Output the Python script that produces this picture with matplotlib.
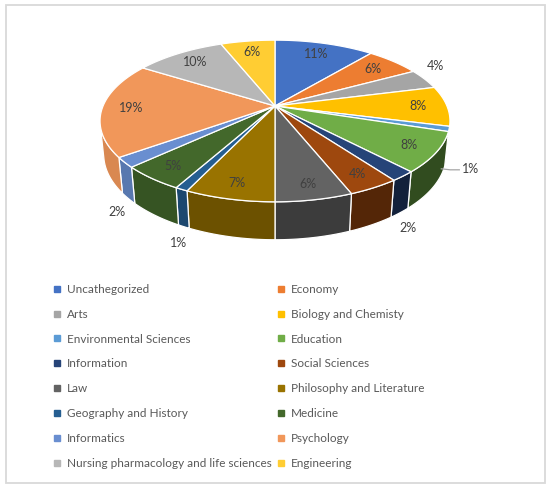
import numpy as np
import matplotlib
matplotlib.use("Agg")
import matplotlib.pyplot as plt
from matplotlib.lines import Line2D
from matplotlib.patches import Polygon, Rectangle
from matplotlib.colors import to_rgb

plt.rcParams['font.family'] = ['Lato', 'DejaVu Sans']

categories = ["Uncathegorized", "Economy", "Arts", "Biology and Chemisty",
              "Environmental Sciences", "Education", "Information", "Social Sciences",
              "Law", "Philosophy and Literature", "Geography and History", "Medicine",
              "Informatics", "Psychology", "Nursing pharmacology and life sciences",
              "Engineering"]
values = [11, 6, 4, 8, 1, 8, 2, 4, 6, 7, 1, 5, 2, 19, 10, 6]
colors = ["#4472C4", "#ED7D31", "#A5A5A5", "#FFC000", "#5B9BD5", "#70AD47",
          "#264478", "#9E480E", "#636363", "#997300", "#255E91", "#43682B",
          "#698ED0", "#F1975A", "#B7B7B7", "#FFCD33"]
outside_labels = ["Arts", "Environmental Sciences", "Information",
                  "Geography and History", "Informatics"]
leader_labels = ["Environmental Sciences"]

W, H = 550, 487
fig = plt.figure(figsize=(W / 100, H / 100), dpi=100)
ax = fig.add_axes([0, 0, 1, 1])
ax.set_xlim(0, W)
ax.set_ylim(H, 0)
ax.axis('off')

# perspective projection of a tilted disk
CX, CY = 275, 106
TH = np.radians(27)
S, C = np.sin(TH), np.cos(TH)
DIST, FOC, HGT = 4.81, 827.0, 0.22


def proj(phi, r, y):
    X = r * np.sin(phi)
    Z = -r * np.cos(phi)
    v = y * C - Z * S
    w = DIST - (y * S + Z * C)
    return CX + X * FOC / w, CY - v * FOC / w


vals = np.array(values, dtype=float)
frac = vals / vals.sum()
edges = np.concatenate([[0], np.cumsum(frac)]) * 2 * np.pi
lim = np.arccos(-1.0 / (DIST * C))          # silhouette angles
vis_lo, vis_hi = lim, 2 * np.pi - lim


def darken(c, k):
    r, g, b = to_rgb(c)
    return (r * k, g * k, b * k)


# side walls
for i, col in enumerate(colors):
    a, b = edges[i], edges[i + 1]
    lo, hi = max(a, vis_lo), min(b, vis_hi)
    if hi <= lo:
        continue
    phi = np.linspace(lo, hi, 60)
    tx, ty = proj(phi, 1.0, 0.0)
    bx, by = proj(phi, 1.0, -HGT)
    xs = np.concatenate([tx, bx[::-1]])
    ys = np.concatenate([ty, by[::-1]])
    mid = 0.5 * (a + b)
    k = np.clip(0.65 - 0.25 * np.sin(mid), 0.35, 0.95)
    ax.add_patch(Polygon(np.column_stack([xs, ys]), closed=True,
                         facecolor=darken(col, k), edgecolor='white',
                         linewidth=0.9, joinstyle='round'))

# top faces
for i, col in enumerate(colors):
    a, b = edges[i], edges[i + 1]
    phi = np.linspace(a, b, max(int((b - a) / 0.01), 4))
    tx, ty = proj(phi, 1.0, 0.0)
    xs = np.concatenate([[CX], tx])
    ys = np.concatenate([[CY], ty])
    ax.add_patch(Polygon(np.column_stack([xs, ys]), closed=True,
                         facecolor=col, edgecolor='white',
                         linewidth=0.9, joinstyle='round'))


def outward(phi, y):
    px, py = proj(phi, 1.0, y)
    qx, qy = proj(phi + 1e-3, 1.0, y)
    tx, ty = qx - px, qy - py
    nx, ny = ty, -tx
    n = np.hypot(nx, ny)
    nx, ny = nx / n, ny / n
    if nx * (px - CX) + ny * (py - CY) < 0:
        nx, ny = -nx, -ny
    return px, py, nx, ny


# data labels
for i, cat in enumerate(categories):
    mid = 0.5 * (edges[i] + edges[i + 1])
    txt = f"{values[i]}%"
    if cat in outside_labels:
        y = 0.0 if np.cos(mid) > 0 else -HGT
        px, py, nx, ny = outward(mid, y)
        if cat in leader_labels:
            sx, sy = proj(mid, 1.0, -0.75 * HGT)
            lx, ly = sx + 24, sy + 14
            ax.plot([sx - 5, sx + 4, lx - 11], [sy + 14, sy + 15, ly + 1],
                    color='#A6A6A6', linewidth=0.9)
        else:
            lx, ly = px + 17 * nx, py + 17 * ny
        ax.text(lx, ly, txt, ha='center', va='center', fontsize=9,
                color='#404040')
    else:
        ex, ey = proj(mid, 1.0, 0.0)
        lx, ly = CX + 0.83 * (ex - CX), CY + 0.83 * (ey - CY)
        ax.text(lx, ly, txt, ha='center', va='center', fontsize=9,
                color='#404040')

# chart border
ax.add_patch(Rectangle((6, 5), 539, 478, fill=False, edgecolor='#D9D9D9',
                       linewidth=1.3))

# legend (row-major order like the reference)
handles = [Line2D([], [], marker='s', linestyle='', color=c, markersize=3.8)
           for c in colors]
order = list(range(0, len(categories), 2)) + list(range(1, len(categories), 2))
fig.legend([handles[i] for i in order], [categories[i] for i in order],
           loc='upper left', bbox_to_anchor=(54 / W, 1 - 284 / H), ncol=2,
           frameon=False, fontsize=8.5, handlelength=0.5, handletextpad=0.6,
           labelspacing=1.17, columnspacing=0.5, borderpad=0, borderaxespad=0,
           labelcolor='#595959')

fig.savefig("out.png", dpi=100)
